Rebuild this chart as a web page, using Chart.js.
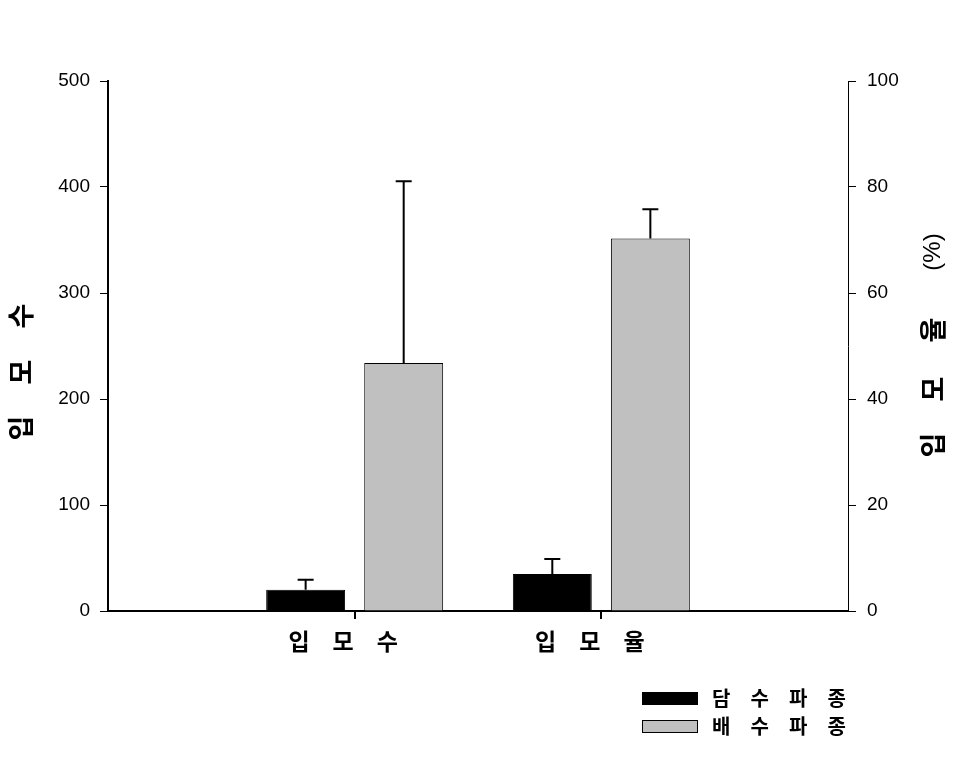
<!DOCTYPE html>
<html><head><meta charset="utf-8">
<script src="https://cdn.jsdelivr.net/npm/chart.js@4/dist/chart.umd.min.js"></script>
<style>html,body{margin:0;padding:0;background:#fff}#wrap{width:957px;height:760px;position:relative}</style>
</head><body><div id="wrap"><canvas id="c" width="957" height="760"></canvas></div>
<script>
// ---- data ----
const categories = ['입모수', '입모율'];
const seriesNames = ['담수파종', '배수파종'];
const countDam = [20, null];      // 입모수 (left axis)
const countBae = [234, null];
const countErrDam = [9.4, null];
const countErrBae = [171.5, null];
const rateDam = [null, 7.0];      // 입모율 % (right axis)
const rateBae = [null, 70.3];
const rateErrDam = [null, 2.8];
const rateErrBae = [null, 5.5];
const leftTicks = [0, 100, 200, 300, 400, 500];
const rightTicks = [0, 20, 40, 60, 80, 100];
const leftTitle = '입모수';
const rightTitle = ['입', '모', '율', '(%)'];

const KR = '"Noto Sans CJK KR", "Noto Sans", sans-serif';
const LAT = '"Liberation Sans", Arial, sans-serif';
const toPoints = arr => arr.map((v, i) => ({ x: i + 1, y: v }));

const errorBars = {
  id: 'errorBars',
  afterDatasetsDraw(chart) {
    const ctx = chart.ctx;
    ctx.save();
    ctx.strokeStyle = '#000';
    ctx.lineWidth = 2;
    chart.data.datasets.forEach((ds, di) => {
      const meta = chart.getDatasetMeta(di);
      const ys = chart.scales[ds.yAxisID];
      meta.data.forEach((bar, i) => {
        const v = ds.data[i].y, e = ds.errors[i];
        if (v == null || e == null) return;
        const yTop = ys.getPixelForValue(v + e);
        ctx.beginPath();
        ctx.moveTo(bar.x, bar.y);
        ctx.lineTo(bar.x, yTop);
        ctx.moveTo(bar.x - 8, yTop);
        ctx.lineTo(bar.x + 8, yTop);
        ctx.stroke();
      });
    });
    ctx.restore();
  }
};

const titlesAndLegend = {
  id: 'titlesAndLegend',
  afterDraw(chart) {
    const ctx = chart.ctx;
    ctx.save();
    ctx.fillStyle = '#000';
    ctx.textAlign = 'center';
    ctx.textBaseline = 'middle';
    // left title
    ctx.save();
    ctx.translate(21, 372);
    ctx.rotate(-Math.PI / 2);
    ctx.font = 'bold 27px ' + KR;
    [...leftTitle].forEach((ch, i) => ctx.fillText(ch, (i - 1) * 56, 0));
    ctx.restore();
    // right title
    ctx.save();
    ctx.translate(933, 350);
    ctx.rotate(-Math.PI / 2);
    const offs = [-95, -39, 20, 98];
    rightTitle.forEach((t, i) => {
      ctx.font = (t === '(%)') ? '24px ' + LAT : 'bold 27px ' + KR;
      ctx.fillText(t, offs[i], 0);
    });
    ctx.restore();
    // legend
    const seen = [];
    chart.data.datasets.forEach(ds => {
      if (seen.find(s => s.label === ds.label)) return;
      seen.push(ds);
    });
    seen.forEach((ds, r) => {
      const cy = 698.5 + r * 28;
      ctx.fillStyle = ds.backgroundColor;
      ctx.fillRect(642, cy - 6.5, 56, 13);
      ctx.strokeStyle = '#000';
      ctx.lineWidth = 1;
      ctx.strokeRect(642.5, cy - 6, 55, 12);
      ctx.fillStyle = '#000';
      ctx.font = 'bold 20px ' + KR;
      ctx.textAlign = 'left';
      [...ds.label].forEach((ch, i) => ctx.fillText(ch, 712 + i * 38.5, cy));
    });
    ctx.restore();
  }
};

const barStyle = (color) => ({ backgroundColor: color, borderColor: '#000', borderWidth: 1, skipNull: true,
  categoryPercentage: 0.795, barPercentage: 0.805 });

new Chart(document.getElementById('c'), {
  type: 'bar',
  data: {
    datasets: [
      Object.assign({ label: seriesNames[0], data: toPoints(countDam), errors: countErrDam, yAxisID: 'y' }, barStyle('#000000')),
      Object.assign({ label: seriesNames[1], data: toPoints(countBae), errors: countErrBae, yAxisID: 'y' }, barStyle('#c0c0c0')),
      Object.assign({ label: seriesNames[0], data: toPoints(rateDam), errors: rateErrDam, yAxisID: 'y2' }, barStyle('#000000')),
      Object.assign({ label: seriesNames[1], data: toPoints(rateBae), errors: rateErrBae, yAxisID: 'y2' }, barStyle('#c0c0c0')),
    ]
  },
  options: {
    responsive: false,
    animation: false,
    events: [],
    layout: { padding: { top: 81, left: 0, right: 0, bottom: 0 } },
    plugins: { legend: { display: false }, tooltip: { enabled: false } },
    scales: {
      x: {
        type: 'linear', min: 0, max: categories.length + 1, offset: false,
        afterBuildTicks: s => { s.ticks = categories.map((c, i) => ({ value: i + 1 })); },
        afterFit: s => { s.height = 149; },
        ticks: { callback: v => [...categories[v - 1]].join('\u3000') + '\u3000', color: '#000',
          font: { family: KR, size: 23, weight: 'bold' }, padding: 8, maxRotation: 0, autoSkip: false },
        grid: { offset: false, drawOnChartArea: false, drawTicks: true, tickLength: 8, color: '#000', lineWidth: 2 },
        border: { display: true, color: '#000', width: 2 }
      },
      y: {
        position: 'left', min: 0, max: 500,
        afterBuildTicks: s => { s.ticks = leftTicks.map(v => ({ value: v })); },
        afterFit: s => { s.width = 108; },
        ticks: { color: '#000', font: { family: LAT, size: 19 }, padding: 10 },
        grid: { drawOnChartArea: false, drawTicks: true, tickLength: 8, color: '#000', lineWidth: 1 },
        border: { display: true, color: '#000', width: 2 }
      },
      y2: {
        position: 'right', min: 0, max: 100,
        afterBuildTicks: s => { s.ticks = rightTicks.map(v => ({ value: v })); },
        afterFit: s => { s.width = 109; },
        ticks: { color: '#000', font: { family: LAT, size: 19 }, padding: 11 },
        grid: { drawOnChartArea: false, drawTicks: true, tickLength: 8, color: '#000', lineWidth: 1 },
        border: { display: true, color: '#000', width: 1 }
      }
    }
  },
  plugins: [errorBars, titlesAndLegend]
});
</script></body></html>
